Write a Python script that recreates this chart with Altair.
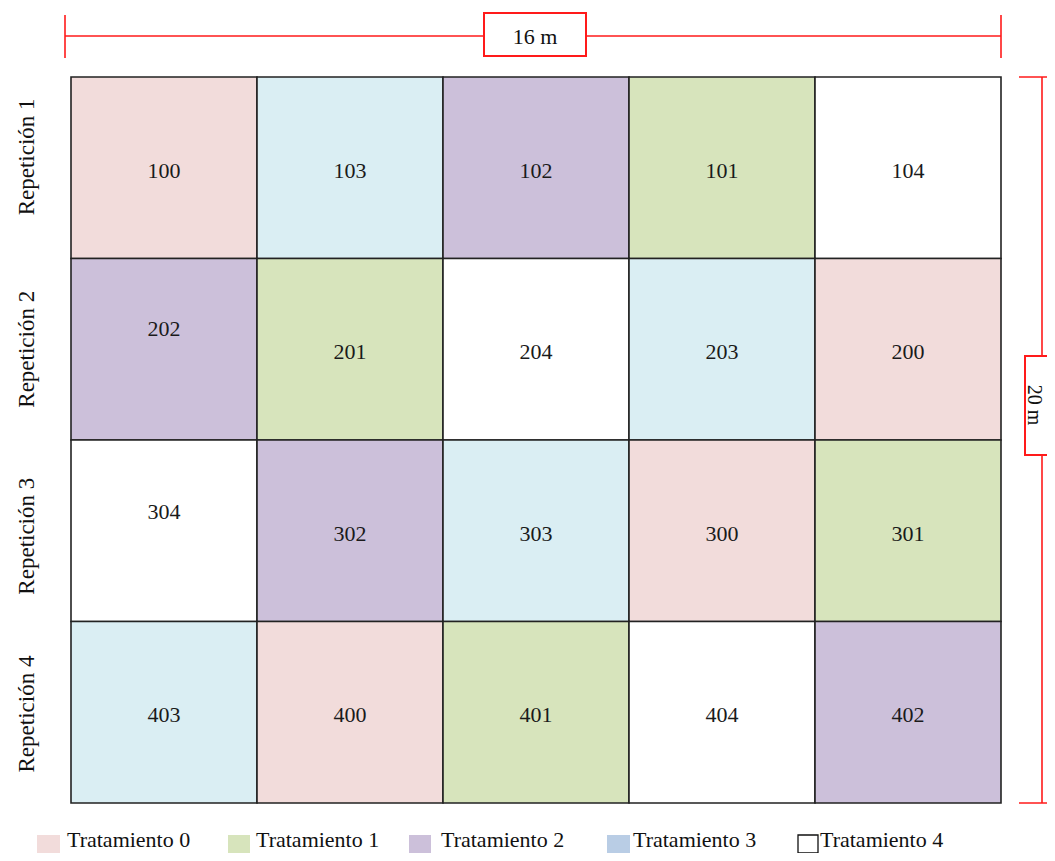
import altair as alt
import pandas as pd

# ---------------- data ----------------
row_labels = ["Repetición 1", "Repetición 2", "Repetición 3", "Repetición 4"]
plot_ids = [
    [100, 103, 102, 101, 104],
    [202, 201, 204, 203, 200],
    [304, 302, 303, 300, 301],
    [403, 400, 401, 404, 402],
]
treatment_names = ["Tratamiento 0", "Tratamiento 1", "Tratamiento 2", "Tratamiento 3", "Tratamiento 4"]
cell_colors = ["#f2dcdb", "#d7e4bc", "#ccc0da", "#daeef3", "#ffffff"]
legend_colors = ["#f2dcdb", "#d7e4bc", "#ccc0da", "#b9cde5", "#ffffff"]
field_width_m = 16
field_height_m = 20
width_label = "16 m"
height_label = "20 m"
# plots whose number sits higher in the cell (metres)
label_raise = {202: 0.65, 304: 0.6}

# ---------------- layout ----------------
PLOT_W, PLOT_H = 930, 726
PAD_L, PAD_T, PAD_R, PAD_B = 63, 69, 46, 50
ORIGIN_X, ORIGIN_Y = 8 + PAD_L, 8 + PAD_T  # page pixels of plot corner
SX = PLOT_W / field_width_m
SY = PLOT_H / field_height_m
NUM_DY_PX = 3  # numbers sit a little below the cell centre


def mx(px):
    return (px - ORIGIN_X) / SX


def my(py):
    return (py - ORIGIN_Y) / SY


n_rows = len(plot_ids)
n_cols = len(plot_ids[0])
cw = field_width_m / n_cols
ch = field_height_m / n_rows

cells = []
for r, row in enumerate(plot_ids):
    for c, pid in enumerate(row):
        t = pid % 10
        cells.append(dict(
            x0=c * cw, x1=(c + 1) * cw, y0=r * ch, y1=(r + 1) * ch,
            xc=(c + 0.5) * cw,
            yc=(r + 0.5) * ch - label_raise.get(pid, 0.0) + NUM_DY_PX / SY,
            plot=str(pid), treat=treatment_names[t],
        ))
cells = pd.DataFrame(cells)

row_shift = [0.3, 0.0, -0.15, -0.05]
rows_df = pd.DataFrame(dict(
    label=row_labels,
    x=[mx(27)] * n_rows,
    y=[(i + 0.5) * ch - row_shift[i] for i in range(n_rows)],
))

xs = alt.Scale(domain=[0, field_width_m], nice=False, zero=False)
ys = alt.Scale(domain=[0, field_height_m], nice=False, zero=False, reverse=True)

RED = "#ff1a1a"
SERIF = "Liberation Serif"

base_cells = alt.Chart(cells)
rects = base_cells.mark_rect(stroke="#222222", strokeWidth=1.6).encode(
    x=alt.X("x0:Q", scale=xs, axis=None),
    x2="x1:Q",
    y=alt.Y("y0:Q", scale=ys, axis=None),
    y2="y1:Q",
    color=alt.Color("treat:N", scale=alt.Scale(domain=treatment_names, range=cell_colors), legend=None),
)
numbers = base_cells.mark_text(font=SERIF, fontSize=22, color="#1a1a1a").encode(
    x=alt.X("xc:Q", scale=xs), y=alt.Y("yc:Q", scale=ys), text="plot:N"
)

row_text = alt.Chart(rows_df).mark_text(font=SERIF, fontSize=23, angle=270, color="#111").encode(
    x=alt.X("x:Q", scale=xs), y=alt.Y("y:Q", scale=ys), text="label:N"
)

# ---- dimension lines ----
top_y = my(36)
hlines = pd.DataFrame(dict(
    x=[mx(65), mx(65), field_width_m],
    x2=[field_width_m, mx(65), field_width_m],
    y=[top_y, my(15), my(15)],
    y2=[top_y, my(58), my(58)],
))
right_x = mx(1042)
vlines = pd.DataFrame(dict(
    x=[right_x, mx(1019), mx(1019)],
    x2=[right_x, mx(1060), mx(1060)],
    y=[0, 0, field_height_m],
    y2=[field_height_m, 0, field_height_m],
))
dim_lines = pd.concat([hlines, vlines], ignore_index=True)
dim_rules = alt.Chart(dim_lines).mark_rule(color=RED, strokeWidth=1.6).encode(
    x=alt.X("x:Q", scale=xs), x2="x2:Q", y=alt.Y("y:Q", scale=ys), y2="y2:Q"
)

boxes = pd.DataFrame(dict(
    x=[mx(484), mx(1025)], x2=[mx(586), mx(1062)],
    y=[my(13), my(356)], y2=[my(56), my(455)],
))
box_marks = alt.Chart(boxes).mark_rect(fill="white", stroke=RED, strokeWidth=2).encode(
    x=alt.X("x:Q", scale=xs), x2="x2:Q", y=alt.Y("y:Q", scale=ys), y2="y2:Q"
)

top_txt = alt.Chart(pd.DataFrame(dict(x=[mx(535)], y=[my(37)], t=[width_label]))).mark_text(
    font=SERIF, fontSize=22, color="#111"
).encode(x=alt.X("x:Q", scale=xs), y=alt.Y("y:Q", scale=ys), text="t:N")

right_txt = alt.Chart(pd.DataFrame(dict(x=[mx(1034)], y=[my(405)], t=[height_label]))).mark_text(
    font=SERIF, fontSize=20, angle=90, color="#111"
).encode(x=alt.X("x:Q", scale=xs), y=alt.Y("y:Q", scale=ys), text="t:N")

# ---- legend (drawn manually: the T3 swatch differs from cell colour) ----
sw_left = [37, 228, 409, 607, 798]
sw_w = [23, 22, 22, 23, 20]
txt_left = [67, 256, 441, 633, 820]
leg = pd.DataFrame(dict(
    name=treatment_names,
    x=[mx(v) for v in sw_left],
    x2=[mx(v + w) for v, w in zip(sw_left, sw_w)],
    tx=[mx(v) for v in txt_left],
    y=[my(835)] * 5,
    y2=[my(853)] * 5,
    ty=[my(840)] * 5,
    stroke=["transparent"] * 4 + ["#111111"],
))
leg_sw = alt.Chart(leg).mark_rect(strokeWidth=1.3).encode(
    x=alt.X("x:Q", scale=xs), x2="x2:Q", y=alt.Y("y:Q", scale=ys), y2="y2:Q",
    fill=alt.Fill("name:N", scale=alt.Scale(domain=treatment_names, range=legend_colors), legend=None),
    stroke=alt.Stroke("stroke:N", scale=None),
)
leg_txt = alt.Chart(leg).mark_text(font=SERIF, fontSize=22, align="left", color="#111").encode(
    x=alt.X("tx:Q", scale=xs), y=alt.Y("ty:Q", scale=ys), text="name:N"
)

chart = alt.layer(
    rects, numbers, row_text, dim_rules, box_marks, top_txt, right_txt, leg_sw, leg_txt
).resolve_scale(color="independent").properties(
    width=PLOT_W, height=PLOT_H,
    autosize=alt.AutoSizeParams(type="none"),
    padding={"left": PAD_L, "top": PAD_T, "right": PAD_R, "bottom": PAD_B},
    background="white",
).configure_view(stroke=None)

chart.save("out.html", embed_options={"renderer": "svg", "actions": False})
